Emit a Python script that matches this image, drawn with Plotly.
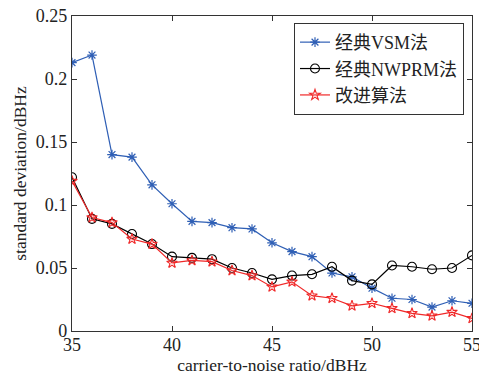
import plotly.graph_objects as go

cnr = list(range(35, 56))
vsm = [0.213, 0.219, 0.140, 0.138, 0.116, 0.101, 0.087, 0.086, 0.082, 0.081,
       0.070, 0.063, 0.059, 0.046, 0.043, 0.034, 0.026, 0.025, 0.019, 0.024, 0.022]
nwprm = [0.122, 0.089, 0.085, 0.077, 0.069, 0.059, 0.058, 0.057, 0.050, 0.046,
         0.041, 0.044, 0.045, 0.051, 0.040, 0.037, 0.052, 0.051, 0.049, 0.050, 0.060]
improved = [0.119, 0.090, 0.086, 0.073, 0.069, 0.054, 0.056, 0.055, 0.048, 0.044,
            0.035, 0.039, 0.028, 0.026, 0.020, 0.022, 0.018, 0.014, 0.012, 0.015, 0.010]
names = ["经典VSM法", "经典NWPRM法", "改进算法"]

serif = "Liberation Serif, Times New Roman, serif"
legend_font = "Liberation Serif, Noto Sans CJK SC"

fig = go.Figure()
fig.add_trace(go.Scatter(x=cnr, y=vsm, name=names[0], mode="lines+markers",
                         line=dict(color="#2f5fb5", width=1.2),
                         marker=dict(symbol="asterisk-open", size=8, color="#2f5fb5",
                                     line=dict(color="#2f5fb5", width=1.2))))
fig.add_trace(go.Scatter(x=cnr, y=nwprm, name=names[1], mode="lines+markers",
                         line=dict(color="black", width=1.2),
                         marker=dict(symbol="circle-open", size=9, color="black",
                                     line=dict(color="black", width=1.1))))
fig.add_trace(go.Scatter(x=cnr, y=improved, name=names[2], mode="lines+markers",
                         line=dict(color="#f02828", width=1.2),
                         marker=dict(symbol="star-open", size=8, color="#f02828",
                                     line=dict(color="#f02828", width=1.1))))

axis_common = dict(showgrid=False, zeroline=False, showline=True, mirror="ticks",
                   linecolor="#333333", linewidth=1.2, ticks="inside", ticklen=5,
                   tickcolor="#333333", ticklabeloverflow="allow", automargin=False,
                   tickfont=dict(family=serif, size=18, color="#222"))

fig.update_layout(
    template="none",
    width=479, height=375,
    margin=dict(l=72, r=7, t=16, b=44),
    paper_bgcolor="white", plot_bgcolor="white",
    font=dict(family=serif, color="#222"),
    xaxis=dict(range=[35, 55], tickvals=[35, 40, 45, 50, 55],
               ticklabelstandoff=-3,
               title=dict(text="carrier-to-noise ratio/dBHz", standoff=3,
                          font=dict(family=serif, size=17.5)),
               **axis_common),
    yaxis=dict(range=[0, 0.25], tickvals=[0, 0.05, 0.1, 0.15, 0.2, 0.25],
               ticktext=["0", "0.05", "0.1", "0.15", "0.2", "0.25"],
               title=dict(text="standard deviation/dBHz", standoff=4,
                          font=dict(family=serif, size=17.5)),
               **axis_common),
    legend=dict(x=0.555, y=0.978, xanchor="left", yanchor="top",
                bgcolor="white", bordercolor="#333333", borderwidth=1,
                font=dict(family=legend_font, size=18, color="#222"),
                tracegroupgap=0, itemwidth=30),
    showlegend=True,
)

fig.write_html("out.html")
